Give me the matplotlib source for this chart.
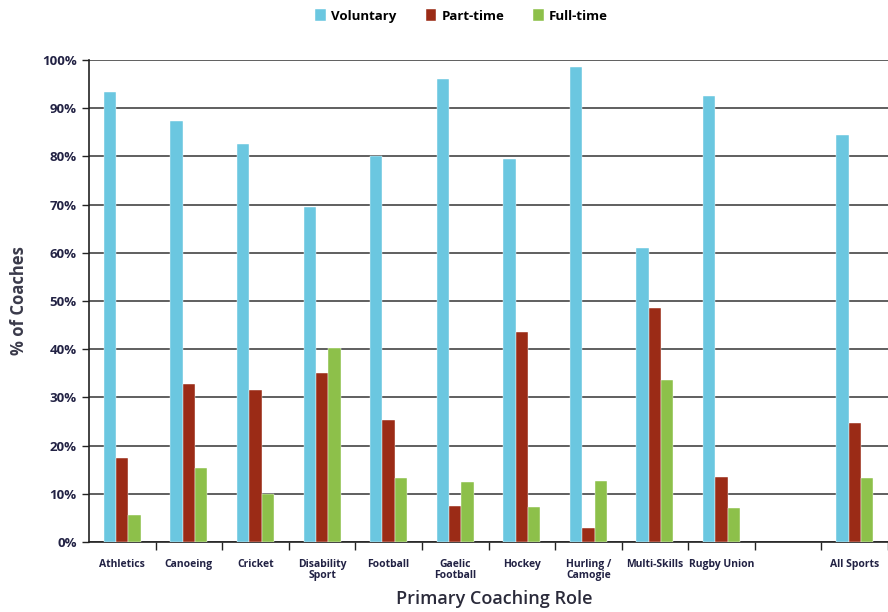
import numpy as np
import matplotlib
matplotlib.use('Agg')
import matplotlib.pyplot as plt
from matplotlib.ticker import PercentFormatter

categories = ['Athletics', 'Canoeing', 'Cricket', 'Disability\nSport', 'Football',
              'Gaelic\nFootball', 'Hockey', 'Hurling /\nCamogie', 'Multi-Skills',
              'Rugby Union', '', 'All Sports']
voluntary = [93.4, 87.3, 82.6, 69.5, 80.1, 96.1, 79.5, 98.5, 61.0, 92.5, np.nan, 84.4]
part_time = [17.4, 32.8, 31.5, 35.0, 25.3, 7.5, 43.6, 2.9, 48.5, 13.5, np.nan, 24.7]
full_time = [5.6, 15.4, 10.0, 40.2, 13.3, 12.4, 7.3, 12.7, 33.6, 7.0, np.nan, 13.3]

series_names = ['Voluntary', 'Part-time', 'Full-time']
colors = ['#6BC7E0', '#9B2B16', '#8DC04A']

plt.rcParams['font.family'] = ['Open Sans', 'DejaVu Sans']

fig = plt.figure(figsize=(8.88, 6.12), dpi=100)
ax = fig.add_axes([89 / 888, 70 / 612, 1 - 89 / 888, 482 / 612])

x = np.arange(len(categories)) + 0.5
w = 0.185
for k, (vals, name, c) in enumerate(zip([voluntary, part_time, full_time], series_names, colors)):
    ax.bar(x + (k - 1) * w, vals, width=w, color=c, label=name, zorder=3,
           edgecolor='white', linewidth=0.3)

ax.set_ylim(0, 100)
ax.set_yticks(np.arange(0, 101, 10))
ax.yaxis.set_major_formatter(PercentFormatter(decimals=0))
ax.yaxis.grid(True, color='#444444', linewidth=1.2, zorder=0)
ax.set_axisbelow(True)

ax.set_xlim(0, 799 / 67.5)
ax.set_xticks(np.arange(1, len(categories) + 1))
ax.set_xticklabels([])
ax.set_xticks(x, minor=True)
ax.set_xticklabels(categories, minor=True, fontsize=7.5, fontweight='bold', color='#222244',
                   linespacing=1.1, va='top')
ax.tick_params(axis='x', which='minor', length=0, pad=12)
ax.tick_params(axis='x', which='major', length=6, width=1, color='#222222', direction='out')
ax.tick_params(axis='y', length=5, width=1, color='#222222', labelsize=9.5, pad=4)
for lab in ax.get_yticklabels():
    lab.set_fontweight('bold')
    lab.set_color('#222244')

for side in ['top', 'right']:
    ax.spines[side].set_visible(False)
ax.spines['left'].set_color('#222222')
ax.spines['bottom'].set_color('#222222')
ax.spines['left'].set_linewidth(1.2)
ax.spines['bottom'].set_linewidth(1.2)

ax.set_ylabel('% of Coaches', fontsize=12, fontweight='bold', color='#3a3a4a', labelpad=10)
ax.set_xlabel('Primary Coaching Role', fontsize=13, fontweight='semibold', color='#2a2a3a')
ax.xaxis.set_label_coords(405 / 799, -0.1)

fig.legend(loc='upper center', bbox_to_anchor=(0.52, 1.005), ncol=3, frameon=False,
           handlelength=0.8, handleheight=1.1, columnspacing=2.2,
           handletextpad=0.4, prop={'weight': 'bold', 'size': 9.5})

fig.savefig('out.png', dpi=100)
